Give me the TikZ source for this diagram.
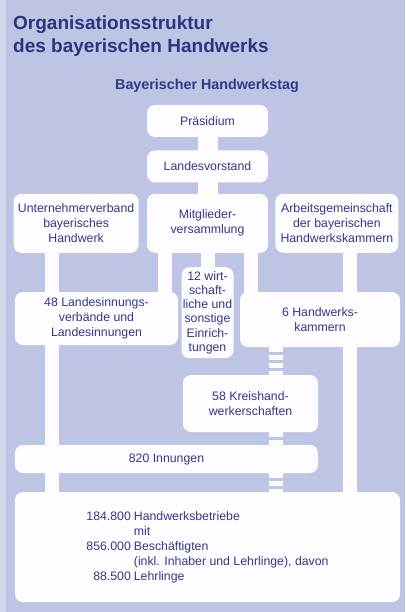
\documentclass[tikz,border=0pt]{standalone}
\usepackage{fontspec}
\setmainfont{Liberation Sans}
\usepackage{tikz}
\usetikzlibrary{positioning,backgrounds}
\definecolor{lavendel}{RGB}{189,196,228}
\definecolor{randhell}{RGB}{212,216,237}
\definecolor{kastenweiss}{RGB}{253,253,255}
\definecolor{schriftblau}{RGB}{50,56,134}
\definecolor{titelblau}{RGB}{44,52,128}
\tikzset{
  kasten/.style={
    rounded corners=8pt,
    fill=kastenweiss,
    align=center,
    inner sep=0pt,
    text=schriftblau,
    font={\fontsize{12.3}{15}\selectfont}
  },
  balken/.style={
    draw=kastenweiss,
    line width=14pt,
    shorten <=-5pt,
    shorten >=-5pt
  },
  strichbalken/.style={
    draw=kastenweiss,
    line width=14pt,
    dash pattern=on 5pt off 3pt
  }
}

\begin{document}
\begin{tikzpicture}[x=1pt,y=-1pt]
\useasboundingbox (0,0) rectangle (405,612);
\node[anchor=north west, align=left, inner sep=0pt, text=titelblau, font={\bfseries\fontsize{19}{22.5}\selectfont}] (titel) at (13,16) {Organisationsstruktur\\des bayerischen Handwerks};
\node[anchor=base, inner sep=0pt, text=schriftblau, font={\bfseries\fontsize{14.3}{16}\selectfont}] (tag) at (207,90) {Bayerischer Handwerkstag};
\node[kasten, minimum width=121pt, minimum height=32pt] (praesidium) at (207.5,121) {Präsidium};
\node[kasten, minimum width=121pt, minimum height=32pt, below=13pt of praesidium] (vorstand) {Landesvorstand};
\node[kasten, minimum width=121pt, minimum height=59pt, below=11pt of vorstand] (mitglieder) {Mitglieder-\\versammlung};
\node[kasten, minimum width=125pt, minimum height=59pt, left=8pt of mitglieder] (unternehmer) {Unternehmerverband\\bayerisches\\Handwerk};
\node[kasten, minimum width=123pt, minimum height=59pt, right=7pt of mitglieder] (arbeit) {Arbeitsgemeinschaft\\der bayerischen\\Handwerkskammern};
\node[kasten, minimum width=52pt, minimum height=91pt, below=14pt of mitglieder, font={\fontsize{12.3}{14.2}\selectfont}] (einricht) {12 wirt-\\schaft-\\liche und\\sonstige\\Einrich-\\tungen};
\node[kasten, minimum width=163pt, minimum height=53pt] (landesinnung) at (96.5,318.5) {48 Landesinnungs-\\verbände und\\Landesinnungen};
\node[kasten, minimum width=160pt, minimum height=55pt] (kammern) at (320,319.5) {6 Handwerks-\\kammern};
\node[kasten, minimum width=135pt, minimum height=57pt] (kreis) at (250.5,403.5) {58 Kreishand-\\werkerschaften};
\node[kasten, minimum width=303pt, minimum height=28pt] (innungen) at (166.5,459) {820 Innungen};
\node[kasten, minimum width=385pt, minimum height=110pt] (betriebe) at (207.5,547) {\begin{tabular}{@{}r@{\hspace{3pt}}l@{}}
184.800 & Handwerksbetriebe\\
 & mit\\
856.000 & Beschäftigten\\
 & (inkl. Inhaber und Lehrlinge), davon\\
88.500 & Lehrlinge
\end{tabular}};
\begin{scope}[on background layer]
\fill[lavendel] (0,0) rectangle (405,612);
\fill[randhell] (0,0) rectangle (6,612);
\draw[balken, line width=20pt] (praesidium.south) -- (praesidium.south |- mitglieder.north);
\draw[balken] ([xshift=-24.5pt]unternehmer.south) -- ([xshift=-24.5pt]unternehmer.south |- betriebe.north);
\draw[balken] ([xshift=-43pt]mitglieder.south) -- ([xshift=-43pt]mitglieder.south |- landesinnung.north);
\draw[balken] (einricht.north |- mitglieder.south) -- (einricht.north);
\draw[balken] ([xshift=43pt]mitglieder.south) -- ([xshift=43pt]mitglieder.south |- kammern.north);
\draw[balken] ([xshift=13pt]arbeit.south) -- ([xshift=13pt]arbeit.south |- betriebe.north);
\draw[strichbalken] ([xshift=-44pt]kammern.south) -- ([xshift=-44pt]kammern.south |- kreis.north);
\draw[strichbalken] ([xshift=25.5pt]kreis.south) -- ([xshift=25.5pt]kreis.south |- innungen.north);
\draw[strichbalken] ([xshift=25.5pt]kreis.south |- innungen.south) -- ([xshift=25.5pt]kreis.south |- betriebe.north);
\end{scope}
\end{tikzpicture}
\end{document}
